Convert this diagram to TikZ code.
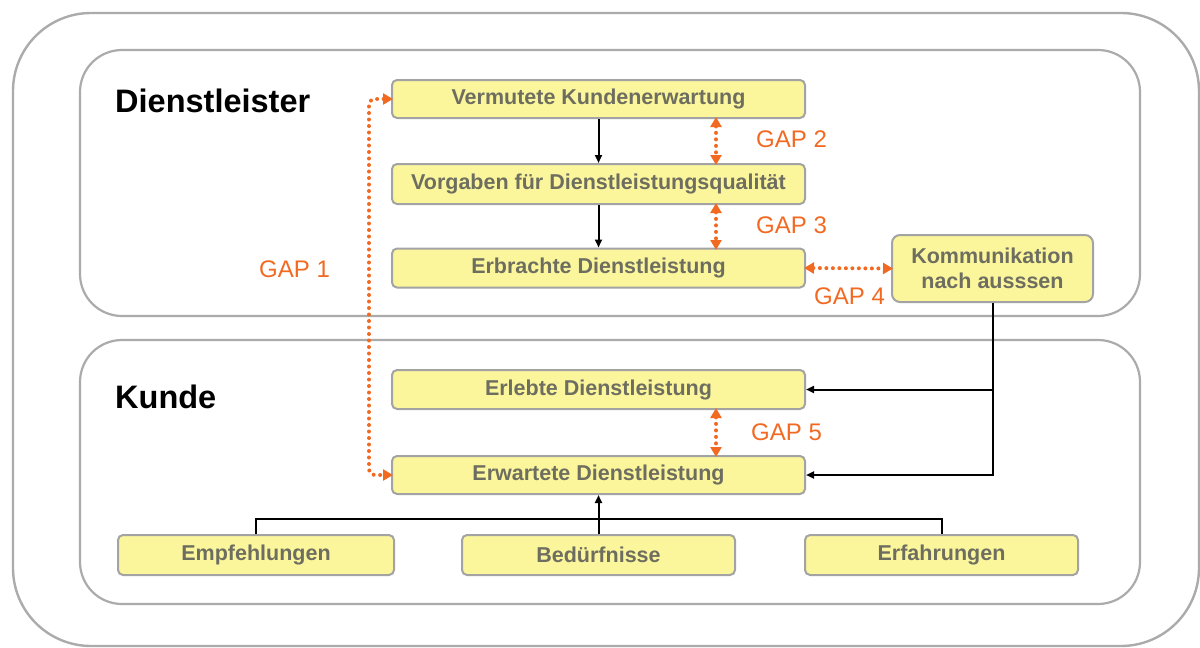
\documentclass[tikz,border=0pt]{standalone}
\usepackage{fontspec}
\setmainfont{Liberation Sans}
\usetikzlibrary{arrows.meta}
\definecolor{boxfill}{HTML}{FBF69C}
\definecolor{boxline}{HTML}{A3A3A3}
\definecolor{boxtext}{HTML}{6E6E60}
\definecolor{gaporange}{HTML}{F26A22}
\definecolor{frame}{HTML}{ABABAB}
\tikzset{
  box/.style={draw=boxline, line width=2pt, fill=boxfill, rounded corners=5pt,
    text=boxtext, font=\fontsize{21.5}{24}\selectfont\bfseries, align=center, inner sep=0pt},
  gapline/.style={draw=gaporange, line width=4pt, line cap=round, dash pattern=on 0pt off 6.5pt},
  gaparrow/.style={gapline,
    {Triangle[length=10pt,width=11pt,line cap=butt,sep=-2pt]}-{Triangle[length=10pt,width=11pt,line cap=butt,sep=-2pt]}},
  gaparrowone/.style={gapline, rounded corners=6pt,
    {Triangle[length=10pt,width=11pt,line cap=butt,sep=-2pt]}-{Triangle[length=10pt,width=11pt,line cap=butt,sep=-2pt]}},
  gaplabel/.style={text=gaporange, font=\fontsize{24}{27}\selectfont, inner sep=0pt},
  flow/.style={draw=black, line width=2pt, -{Triangle[length=8pt,width=7pt]}},
  plain/.style={draw=black, line width=2pt},
  title/.style={font=\fontsize{32.5}{36}\selectfont\bfseries, anchor=west, inner sep=0pt},
}
\begin{document}
\begin{tikzpicture}[x=1pt,y=-1pt]
\useasboundingbox (0,0) rectangle (1200,648);
% frames
\draw[frame, line width=2.4pt, rounded corners=78pt] (13,13) rectangle (1199,646);
\draw[frame, line width=2.2pt, rounded corners=42pt] (80,50) rectangle (1140,316);
\draw[frame, line width=2.2pt, rounded corners=42pt] (80,340) rectangle (1140,604);
\node[title] (tdl) at (115,101) {Dienstleister};
\node[title] (tku) at (115,397) {Kunde};
% boxes
\node[box, minimum width=413pt, minimum height=38pt] (verm) at (598.5,99) {\raisebox{-1.5pt}{Vermutete Kundenerwartung}};
\node[box, minimum width=413pt, minimum height=40pt] (vorg) at (598.5,184) {\raisebox{-1.5pt}{Vorgaben für Dienstleistungsqualität}};
\node[box, minimum width=413pt, minimum height=39pt] (erbr) at (598.5,268) {\raisebox{-1.5pt}{Erbrachte Dienstleistung}};
\node[box, minimum width=201pt, minimum height=67pt, rounded corners=8pt] (komm) at (992.5,268.5) {Kommunikation\\[1pt]nach ausssen};
\node[box, minimum width=413pt, minimum height=39pt] (erle) at (598.5,389.5) {\raisebox{-1.5pt}{Erlebte Dienstleistung}};
\node[box, minimum width=413pt, minimum height=38pt] (erwa) at (598.5,475) {\raisebox{-1.5pt}{Erwartete Dienstleistung}};
\node[box, minimum width=276pt, minimum height=40pt] (empf) at (256,555) {\raisebox{-1.5pt}{Empfehlungen}};
\node[box, minimum width=273pt, minimum height=40pt] (bedu) at (598.5,555) {Bedürfnisse};
\node[box, minimum width=273pt, minimum height=40pt] (erfa) at (941.5,555) {\raisebox{-1.5pt}{Erfahrungen}};
% black flow
\draw[flow] (verm.south) -- (vorg.north);
\draw[flow] (vorg.south) -- (erbr.north);
\draw[flow] (komm.south) |- (erwa.east);
\draw[flow] (komm.south |- erle.east) -- (erle.east);
\coordinate (bar) at (598.5,519);
\draw[plain] (empf.north) |- (bar) -| (erfa.north);
\draw[flow] (bedu.north) -- (erwa.south);
% gaps
\coordinate (g2a) at (716,119);
\coordinate (g2b) at (716,163);
\coordinate (g3a) at (716,205);
\coordinate (g3b) at (716,248);
\coordinate (g5a) at (716,410);
\coordinate (g5b) at (716,455);
\draw[gaparrow] (g2a) -- (g2b);
\draw[gaparrow] (g3a) -- (g3b);
\draw[gaparrow] (g5a) -- (g5b);
\draw[gaparrow] (erbr.east) -- (komm.west);
\draw[gaparrowone] (verm.west) -| (369,290) |- (erwa.west);
\node[gaplabel, anchor=west] (gap2) at (756,139) {GAP 2};
\node[gaplabel, anchor=west] (gap3) at (756,225) {GAP 3};
\node[gaplabel, anchor=west] (gap4) at (814,296) {GAP 4};
\node[gaplabel, anchor=west] (gap5) at (751,432) {GAP 5};
\node[gaplabel, anchor=west] (gap1) at (259,269) {GAP 1};
\end{tikzpicture}
\end{document}
